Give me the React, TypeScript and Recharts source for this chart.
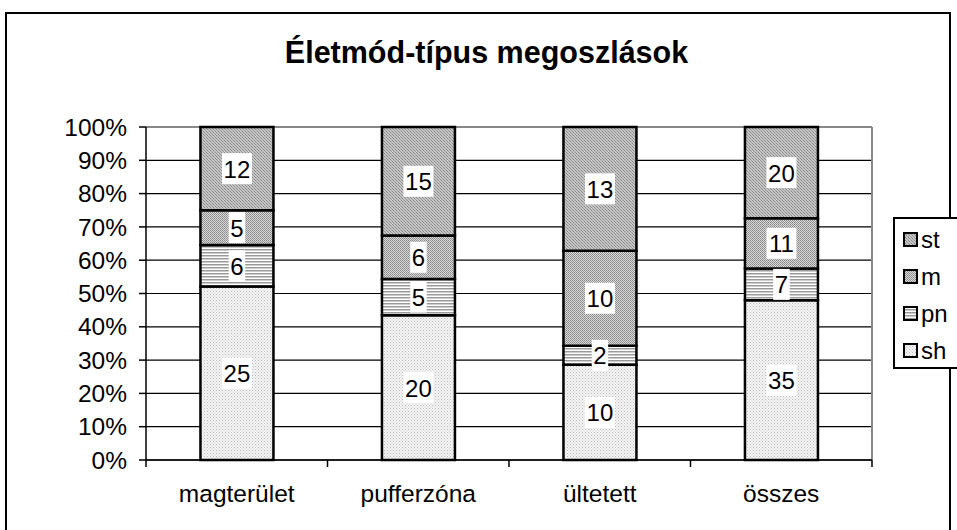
import * as React from "react";
import { BarChart, Bar, XAxis, YAxis, CartesianGrid, LabelList, Customized, usePlotArea } from "recharts";

// ── Data ────────────────────────────────────────────────────────────────
const categories = ["magterület", "pufferzóna", "ültetett", "összes"];
const shValues = [25, 20, 10, 35];
const pnValues = [6, 5, 2, 7];
const mValues = [5, 6, 10, 11];
const stValues = [12, 15, 13, 20];
const yTicks = [0, 0.1, 0.2, 0.3, 0.4, 0.5, 0.6, 0.7, 0.8, 0.9, 1];

const series = [
  { key: "sh", fill: "url(#pat-sh)" },
  { key: "pn", fill: "url(#pat-pn)" },
  { key: "m", fill: "url(#pat-m)" },
  { key: "st", fill: "url(#pat-st)" },
];

const data = categories.map((name, i) => ({
  name,
  sh: shValues[i],
  pn: pnValues[i],
  m: mValues[i],
  st: stValues[i],
}));

const FONT = "'Liberation Sans', Arial, sans-serif";
const W = 957;
const H = 530;
const PLOT_LEFT = 146;
const PLOT_RIGHT = 872;
const PLOT_TOP = 127;
const PLOT_BOTTOM = 460;
const Y_AXIS_W = 100;
const BAND = (PLOT_RIGHT - PLOT_LEFT) / categories.length;

// ── Pieces ──────────────────────────────────────────────────────────────

function Patterns() {
  return (
    <defs>
      <pattern id="pat-sh" width="3" height="3" patternUnits="userSpaceOnUse">
        <rect width="3" height="3" fill="#f4f4f4" />
        <rect x="0" y="0" width="1" height="1" fill="#bdbdbd" />
        <rect x="1.5" y="1.5" width="1" height="1" fill="#cfcfcf" />
      </pattern>
      <pattern id="pat-pn" width="4" height="3" patternUnits="userSpaceOnUse">
        <rect width="4" height="3" fill="#ffffff" />
        <rect x="0" y="0" width="4" height="1.5" fill="#9a9a9a" />
      </pattern>
      <pattern id="pat-m" width="2" height="2" patternUnits="userSpaceOnUse">
        <rect width="2" height="2" fill="#d6d6d6" />
        <rect x="0" y="0" width="1" height="1" fill="#8a8a8a" />
        <rect x="1" y="1" width="1" height="1" fill="#9a9a9a" />
      </pattern>
      <pattern id="pat-st" width="3" height="3" patternUnits="userSpaceOnUse">
        <rect width="3" height="3" fill="#c4c4c4" />
        <rect x="0" y="0" width="1" height="1" fill="#8c8c8c" />
        <rect x="1" y="1" width="1" height="1" fill="#a0a0a0" />
        <rect x="2" y="2" width="1" height="1" fill="#8c8c8c" />
      </pattern>
    </defs>
  );
}

function PlotFrame() {
  const area = usePlotArea();
  if (!area) return null;
  const { x, y, width, height } = area;
  return (
    <g>
      <line x1={x} x2={x + width} y1={y} y2={y} stroke="#888" strokeWidth={2} />
      <line x1={x + width} x2={x + width} y1={y} y2={y + height} stroke="#888" strokeWidth={2} />
    </g>
  );
}

function ValueLabel(props: any) {
  const { x, y, width, height, value } = props;
  if (value == null) return null;
  const text = String(value);
  const cx = x + width / 2;
  const cy = y + height / 2;
  const bw = text.length * 13.5 + 3;
  const bh = 31;
  return (
    <g>
      <rect x={cx - bw / 2} y={cy - bh / 2} width={bw} height={bh} fill="#fff" />
      <text x={cx} y={cy + 9} textAnchor="middle" fontSize={24} fontFamily={FONT} fill="#000">
        {text}
      </text>
    </g>
  );
}

function CategoryTick(props: any) {
  const { x, payload, index } = props;
  const axisY = PLOT_BOTTOM;
  const left = x - BAND / 2;
  return (
    <g>
      <line x1={left} x2={left} y1={axisY} y2={axisY + 7} stroke="#000" strokeWidth={1.5} />
      {index === categories.length - 1 && (
        <line x1={x + BAND / 2} x2={x + BAND / 2} y1={axisY} y2={axisY + 7} stroke="#000" strokeWidth={1.5} />
      )}
      <text x={x} y={502} textAnchor="middle" fontSize={24.5} fontFamily={FONT} fill="#000">
        {payload.value}
      </text>
    </g>
  );
}

function LegendBox() {
  const items = [...series].reverse();
  return (
    <div
      style={{
        position: "absolute",
        left: 893,
        top: 217,
        width: 64,
        height: 152,
        border: "2px solid #000",
        borderRight: "none",
        background: "#fff",
        padding: "2px 0 0 8px",
        fontFamily: FONT,
        fontSize: 24,
        boxSizing: "border-box",
      }}
    >
      <svg width={0} height={0} style={{ position: "absolute" }}>
        <Patterns />
      </svg>
      {items.map((it) => (
        <div key={it.key} style={{ display: "flex", alignItems: "center", height: 37, lineHeight: "37px" }}>
          <svg width={15} height={15} style={{ marginRight: 3 }}>
            <rect x={1} y={1} width={13} height={13} fill={it.fill} stroke="#000" strokeWidth={2} />
          </svg>
          <span>{it.key}</span>
        </div>
      ))}
    </div>
  );
}

// ── Chart ───────────────────────────────────────────────────────────────

export default function App() {
  return (
    <div style={{ position: "absolute", left: 0, top: 0, width: W, height: H, background: "#fff", overflow: "hidden" }}>
      <div
        style={{
          position: "absolute",
          left: 5,
          top: 12,
          width: 946,
          height: 530,
          border: "2px solid #000",
          boxSizing: "border-box",
        }}
      />
      <div
        style={{
          position: "absolute",
          left: 0,
          top: 35,
          width: 973,
          textAlign: "center",
          fontFamily: FONT,
          fontWeight: "bold",
          fontSize: 30.5,
        }}
      >
        Életmód-típus megoszlások
      </div>
      <div style={{ position: "absolute", left: 0, top: 0 }}>
        <BarChart
          width={W}
          height={H}
          data={data}
          stackOffset="expand"
          barCategoryGap="30%"
          margin={{ top: PLOT_TOP, right: W - PLOT_RIGHT, bottom: 0, left: PLOT_LEFT - Y_AXIS_W }}
        >
          <Patterns />
          <CartesianGrid vertical={false} stroke="#000" strokeWidth={1.2} />
          <XAxis
            dataKey="name"
            height={H - PLOT_BOTTOM}
            axisLine={{ stroke: "#000", strokeWidth: 1.5 }}
            tickLine={false}
            tick={<CategoryTick />}
            interval={0}
          />
          <YAxis
            width={Y_AXIS_W}
            domain={[0, 1]}
            ticks={yTicks}
            interval={0}
            tickFormatter={(v: number) => `${Math.round(v * 100)}%`}
            axisLine={{ stroke: "#000", strokeWidth: 1.5 }}
            tickLine={{ stroke: "#000", strokeWidth: 1.5 }}
            tickSize={7}
            tickMargin={12}
            tick={{ fontSize: 24.5, fontFamily: FONT, fill: "#000" }}
          />
          <Customized component={<PlotFrame />} />
          {series.map((s) => (
            <Bar
              key={s.key}
              dataKey={s.key}
              name={s.key}
              stackId="a"
              fill={s.fill}
              stroke="#000"
              strokeWidth={2.5}
              isAnimationActive={false}
            >
              <LabelList dataKey={s.key} content={<ValueLabel />} />
            </Bar>
          ))}
        </BarChart>
      </div>
      <LegendBox />
    </div>
  );
}
